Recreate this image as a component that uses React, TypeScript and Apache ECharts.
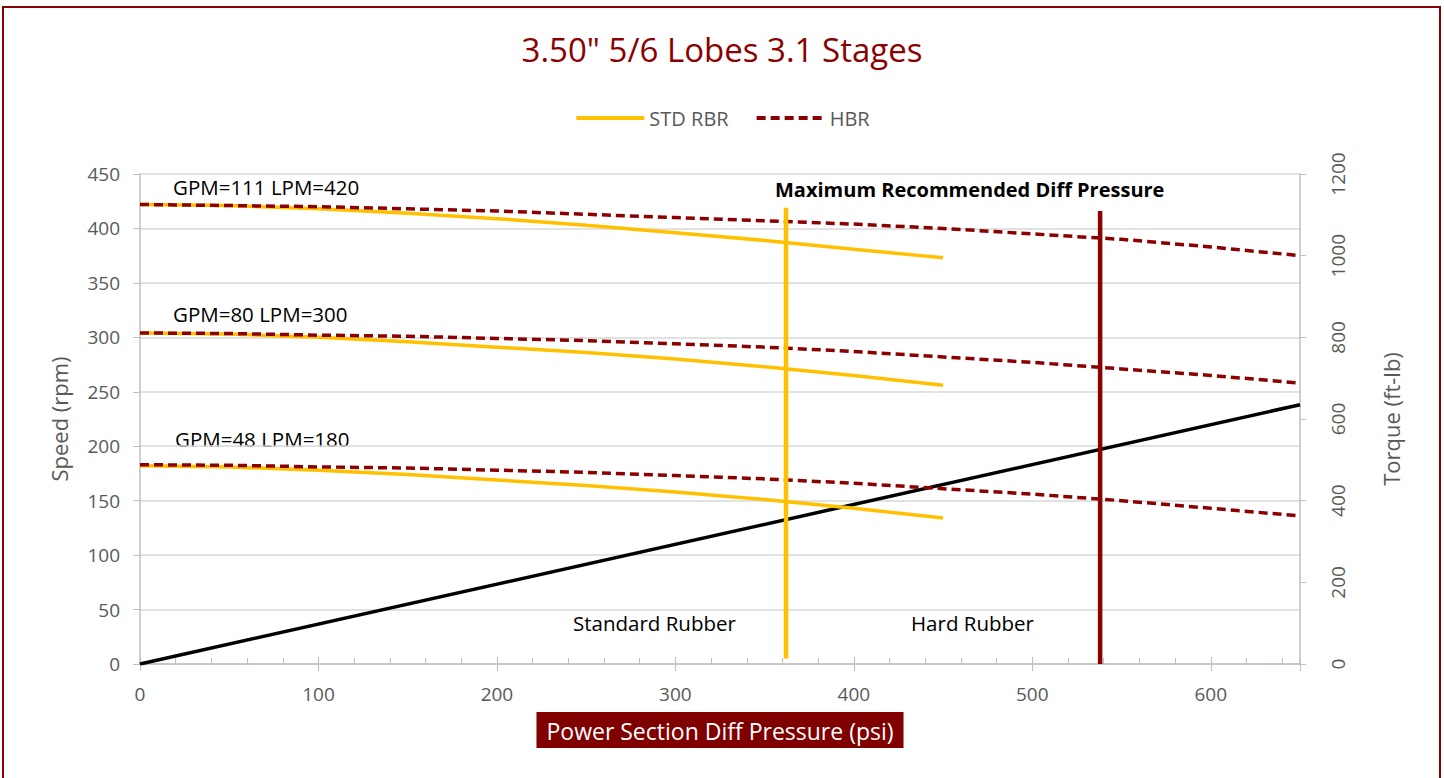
import React, { useEffect, useRef } from "react";
import * as echarts from "echarts";

// ---- data ----
const stdPressure = [0, 50, 100, 150, 200, 250, 300, 350, 400, 450];
const std420 = [422, 421, 418, 414, 409, 403, 396, 389, 381, 373];
const std300 = [304, 303, 300, 296, 291, 286, 280, 273, 265, 256];
const std180 = [182, 181, 178, 174, 169, 164, 158, 151, 143, 134];

const hbrPressure = [0, 50, 100, 150, 200, 250, 300, 350, 400, 450, 500, 550, 600, 650];
const hbr420 = [422, 421, 420, 418, 416, 413, 410, 407, 404, 400, 395, 390, 383, 375];
const hbr300 = [304, 303.5, 302, 301, 299, 297, 294, 291, 287, 282, 277, 271, 265, 258];
const hbr180 = [183, 182.5, 181, 180, 178, 176, 173, 170, 166, 161, 156, 150, 143, 136];

const torquePressure = [0, 650];
const torqueValues = [0, 635];

const stdMaxPressure = 362;
const stdMaxLine = [5, 419];
const hbrMaxPressure = 538;
const hbrMaxLine = [0, 416];

const flowLabels = ["GPM=111 LPM=420", "GPM=80 LPM=300", "GPM=48 LPM=180"];

const YELLOW = "#FFC000";
const DARKRED = "#8B0000";
const GRAY = "#595959";
const AXISGRAY = "#bfbfbf";
const FONT = "'Open Sans', sans-serif";

const pairs = (xs: number[], ys: number[]) => xs.map((x, i) => [x, ys[i]]);

export default function App() {
  const ref = useRef<HTMLDivElement>(null);
  useEffect(() => {
    if (!ref.current) return;
    const chart = echarts.init(ref.current, undefined, { renderer: "svg" });
    const stdLine = (data: number[]) => ({
      type: "line",
      name: "STD RBR",
      data: pairs(stdPressure, data),
      showSymbol: false,
      symbol: "none",
      lineStyle: { color: YELLOW, width: 3.5 },
      itemStyle: { color: YELLOW },
      z: 3,
    });
    const hbrLine = (data: number[]) => ({
      type: "line",
      name: "HBR",
      data: pairs(hbrPressure, data),
      showSymbol: false,
      symbol: "none",
      lineStyle: { color: DARKRED, width: 3.5, type: [9, 5] },
      itemStyle: { color: DARKRED },
      z: 4,
    });
    chart.setOption({
      animation: false,
      textStyle: { fontFamily: FONT },
      title: {
        text: '3.50" 5/6 Lobes 3.1 Stages',
        left: "center",
        top: 28,
        textStyle: { color: DARKRED, fontSize: 33, fontWeight: "normal", fontFamily: FONT },
      },
      legend: {
        data: ["STD RBR", "HBR"],
        top: 103,
        left: "center",
        itemWidth: 68,
        itemHeight: 4,
        itemGap: 26,
        itemStyle: { opacity: 0 },
        lineStyle: { width: 4 },
        textStyle: { color: GRAY, fontSize: 20, fontFamily: FONT },
      },
      grid: { left: 140, right: 144, top: 174, bottom: 114, containLabel: false },
      xAxis: [
        {
          type: "value",
          min: 0,
          max: 650,
          interval: 100,
          name: "Power Section Diff Pressure (psi)",
          nameLocation: "middle",
          nameGap: 48,
          nameTextStyle: {
            color: "#ffffff",
            backgroundColor: "#800000",
            fontSize: 23,
            padding: [7, 10, 6, 10],
            fontFamily: FONT,
          },
          axisLine: { show: true, onZero: false, lineStyle: { color: AXISGRAY, width: 1.5 } },
          axisTick: { show: true, inside: true, length: 7, lineStyle: { color: AXISGRAY } },
          minorTick: { show: true, splitNumber: 5, length: 6, lineStyle: { color: AXISGRAY } },
          axisLabel: { color: GRAY, fontSize: 19, margin: 20, showMaxLabel: false, fontFamily: FONT },
          splitLine: { show: false },
        },
        {
          type: "value",
          min: 0,
          max: 650,
          interval: 100,
          position: "bottom",
          axisLine: { show: false, onZero: false },
          axisTick: { show: true, inside: false, length: 7, lineStyle: { color: AXISGRAY } },
          axisLabel: { show: false },
          splitLine: { show: false },
        },
      ],
      yAxis: [
        {
          type: "value",
          min: 0,
          max: 450,
          interval: 50,
          name: "Speed (rpm)",
          nameLocation: "middle",
          nameGap: 70,
          nameTextStyle: { color: GRAY, fontSize: 22, fontFamily: FONT },
          axisLine: { show: true, onZero: false, lineStyle: { color: AXISGRAY, width: 1.5 } },
          axisTick: { show: true, length: 7, lineStyle: { color: AXISGRAY } },
          minorTick: { show: false },
          axisLabel: { color: GRAY, fontSize: 19, margin: 20, fontFamily: FONT },
          splitLine: { show: true, lineStyle: { color: "#d9d9d9", width: 1.5 } },
        },
        {
          type: "value",
          min: 0,
          max: 1200,
          interval: 200,
          position: "right",
          name: "Torque (ft-lb)",
          nameLocation: "middle",
          nameGap: 80,
          nameTextStyle: { color: GRAY, fontSize: 22, fontFamily: FONT },
          axisLine: { show: true, onZero: false, lineStyle: { color: AXISGRAY, width: 1.5 } },
          axisTick: { show: true, length: 6, lineStyle: { color: AXISGRAY } },
          minorTick: { show: false },
          axisLabel: {
            color: GRAY,
            fontSize: 19,
            margin: 28,
            rotate: 90,
            fontFamily: FONT,
            formatter: (v: number) => String(v),
          },
          splitLine: { show: false },
        },
      ],
      series: [
        {
          type: "line",
          name: "Torque",
          yAxisIndex: 1,
          data: pairs(torquePressure, torqueValues),
          showSymbol: false,
          symbol: "none",
          lineStyle: { color: "#000000", width: 3.5 },
          z: 2,
        },
        stdLine(std420),
        stdLine(std300),
        stdLine(std180),
        hbrLine(hbr420),
        hbrLine(hbr300),
        hbrLine(hbr180),
        {
          type: "line",
          name: "STD max",
          data: [
            [stdMaxPressure, stdMaxLine[0]],
            [stdMaxPressure, stdMaxLine[1]],
          ],
          showSymbol: false,
          symbol: "none",
          lineStyle: { color: YELLOW, width: 4.5 },
          z: 5,
        },
        {
          type: "line",
          name: "HBR max",
          data: [
            [hbrMaxPressure, hbrMaxLine[0]],
            [hbrMaxPressure, hbrMaxLine[1]],
          ],
          showSymbol: false,
          symbol: "none",
          lineStyle: { color: DARKRED, width: 4.5 },
          z: 5,
        },
      ],
      graphic: [
        {
          type: "rect",
          shape: { x: 3, y: 7, width: 1437, height: 790 },
          style: { fill: "none", stroke: DARKRED, lineWidth: 2 },
          silent: true,
        },
        {
          type: "text",
          left: 173,
          top: 176,
          style: { text: flowLabels[0], fill: "#000", fontSize: 20.5, fontFamily: FONT },
        },
        {
          type: "text",
          left: 173,
          top: 303,
          style: { text: flowLabels[1], fill: "#000", fontSize: 20.5, fontFamily: FONT },
        },
        {
          type: "text",
          left: 175,
          top: 428,
          style: { text: flowLabels[2], fill: "#000", fontSize: 20.5, fontFamily: FONT },
        },
        {
          type: "text",
          left: 775,
          top: 179,
          style: {
            text: "Maximum Recommended Diff Pressure",
            fill: "#000",
            fontSize: 20,
            fontWeight: "bold",
            fontFamily: FONT,
          },
        },
        {
          type: "text",
          left: 573,
          top: 612,
          style: { text: "Standard Rubber", fill: "#000", fontSize: 20.5, fontFamily: FONT },
        },
        {
          type: "text",
          left: 911,
          top: 612,
          style: { text: "Hard Rubber", fill: "#000", fontSize: 20.5, fontFamily: FONT },
        },
      ],
    });
    return () => chart.dispose();
  }, []);
  return (
    <div
      ref={ref}
      style={{ position: "fixed", left: 0, top: 0, width: 1444, height: 778, background: "#fff" }}
    />
  );
}
